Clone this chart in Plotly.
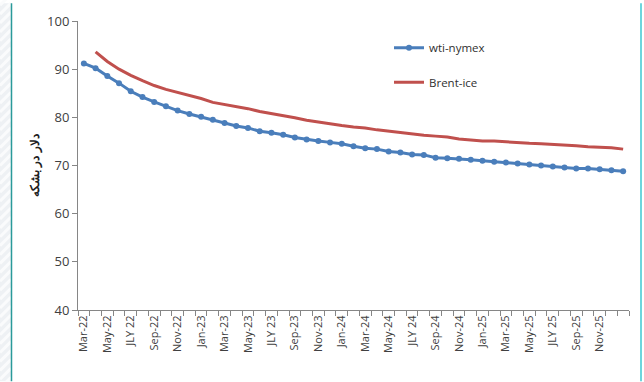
import plotly.graph_objects as go

months = ["Mar-22", "Apr-22", "May-22", "Jun-22", "JLY 22", "Aug-22", "Sep-22", "Oct-22", "Nov-22", "Dec-22",
          "Jan-23", "Feb-23", "Mar-23", "Apr-23", "May-23", "Jun-23", "JLY 23", "Aug-23", "Sep-23", "Oct-23",
          "Nov-23", "Dec-23", "Jan-24", "Feb-24", "Mar-24", "Apr-24", "May-24", "Jun-24", "JLY 24", "Aug-24",
          "Sep-24", "Oct-24", "Nov-24", "Dec-24", "Jan-25", "Feb-25", "Mar-25", "Apr-25", "May-25", "Jun-25",
          "JLY 25", "Aug-25", "Sep-25", "Oct-25", "Nov-25", "Dec-25", "Jan-26"]

# labels shown on the axis (every second month, up to Nov-25)
shown_labels = ["Mar-22", "May-22", "JLY 22", "Sep-22", "Nov-22", "Jan-23", "Mar-23", "May-23", "JLY 23",
                "Sep-23", "Nov-23", "Jan-24", "Mar-24", "May-24", "JLY 24", "Sep-24", "Nov-24", "Jan-25",
                "Mar-25", "May-25", "JLY 25", "Sep-25", "Nov-25"]

wti = [91.2, 90.2, 88.6, 87.1, 85.4, 84.2, 83.2, 82.3, 81.4, 80.7,
       80.1, 79.5, 78.8, 78.2, 77.8, 77.1, 76.8, 76.4, 75.8, 75.4,
       75.1, 74.8, 74.5, 74.0, 73.6, 73.4, 72.9, 72.7, 72.3, 72.2,
       71.6, 71.5, 71.4, 71.2, 71.0, 70.8, 70.6, 70.4, 70.2, 70.0,
       69.8, 69.6, 69.4, 69.4, 69.2, 69.0, 68.8]

brent = [None, 93.6, 91.6, 90.0, 88.7, 87.6, 86.6, 85.8, 85.2, 84.6,
         83.9, 83.1, 82.7, 82.2, 81.8, 81.2, 80.8, 80.3, 79.9, 79.4,
         79.0, 78.6, 78.3, 78.0, 77.8, 77.4, 77.1, 76.8, 76.5, 76.3,
         76.1, 75.9, 75.5, 75.3, 75.1, 75.1, 74.9, 74.7, 74.6, 74.5,
         74.4, 74.2, 74.1, 73.9, 73.8, 73.7, 73.4]

tick_text = [m if m in shown_labels else "" for m in months]

FONT = "Open Sans"
fig = go.Figure()
fig.add_trace(go.Scatter(x=months, y=wti, name="wti-nymex", mode="lines+markers",
                         line=dict(color="#4A7EBB", width=3),
                         marker=dict(color="#4A7EBB", size=6, symbol="circle"),
                         legend="legend"))
fig.add_trace(go.Scatter(x=months, y=brent, name="Brent-ice", mode="lines",
                         line=dict(color="#C0504D", width=3),
                         legend="legend2"))

L, R, T, B = 78, 15, 18, 72
W, H = 644, 382
pw, ph = W - L - R, H - T - B

def px_x(px):
    return (px - L) / pw

def px_y(py):
    return (H - B - py) / ph

shapes = []
# left striped strip
shapes.append(dict(type="rect", xref="paper", yref="paper", x0=px_x(0), x1=px_x(11),
                   y0=px_y(382), y1=px_y(0), fillcolor="#EEF1F4", line=dict(width=0), layer="below"))
for k in range(-2, 45):
    yb = k * 9
    shapes.append(dict(type="line", xref="paper", yref="paper", x0=px_x(0), x1=px_x(11),
                       y0=px_y(yb + 11), y1=px_y(yb), line=dict(color="#FAFBFC", width=3), layer="below"))
shapes.append(dict(type="line", xref="paper", yref="paper", x0=px_x(11.5), x1=px_x(11.5),
                   y0=px_y(382), y1=px_y(0), line=dict(color="#2A9A9A", width=1.5)))
shapes.append(dict(type="line", xref="paper", yref="paper", x0=px_x(641), x1=px_x(641),
                   y0=px_y(382), y1=px_y(0), line=dict(color="#3CC8D2", width=1.5)))

fig.update_layout(
    width=W, height=H,
    margin=dict(l=L, r=R, t=T, b=B),
    paper_bgcolor="white", plot_bgcolor="white",
    font=dict(family=FONT, color="#404040"),
    shapes=shapes,
    showlegend=True,
    legend=dict(x=px_x(389), y=px_y(45), xanchor="left", yanchor="middle",
                bgcolor="rgba(0,0,0,0)", font=dict(size=11.5, color="#303030")),
    legend2=dict(x=px_x(389), y=px_y(80), xanchor="left", yanchor="middle",
                 bgcolor="rgba(0,0,0,0)", font=dict(size=11.5, color="#303030")),
    xaxis=dict(type="category", tickmode="array", tickvals=months, ticktext=tick_text,
               tickson="boundaries", ticks="outside", ticklen=5, tickcolor="#868686",
               showline=True, linecolor="#868686", linewidth=1, showgrid=False, zeroline=False,
               tickangle=-90, tickfont=dict(size=11, color="#404040"),
               range=[-0.5, len(months) - 0.5]),
    yaxis=dict(range=[40, 100], dtick=10, tick0=40, ticks="outside", ticklen=5, tickcolor="#868686",
               showline=True, linecolor="#868686", linewidth=1, showgrid=False, zeroline=False,
               tickfont=dict(size=13, color="#404040"),
               title=dict(text="<b>دلار در بشکه</b>", font=dict(size=12, color="#202020"), standoff=4)),
)

fig.write_html("out.html")
